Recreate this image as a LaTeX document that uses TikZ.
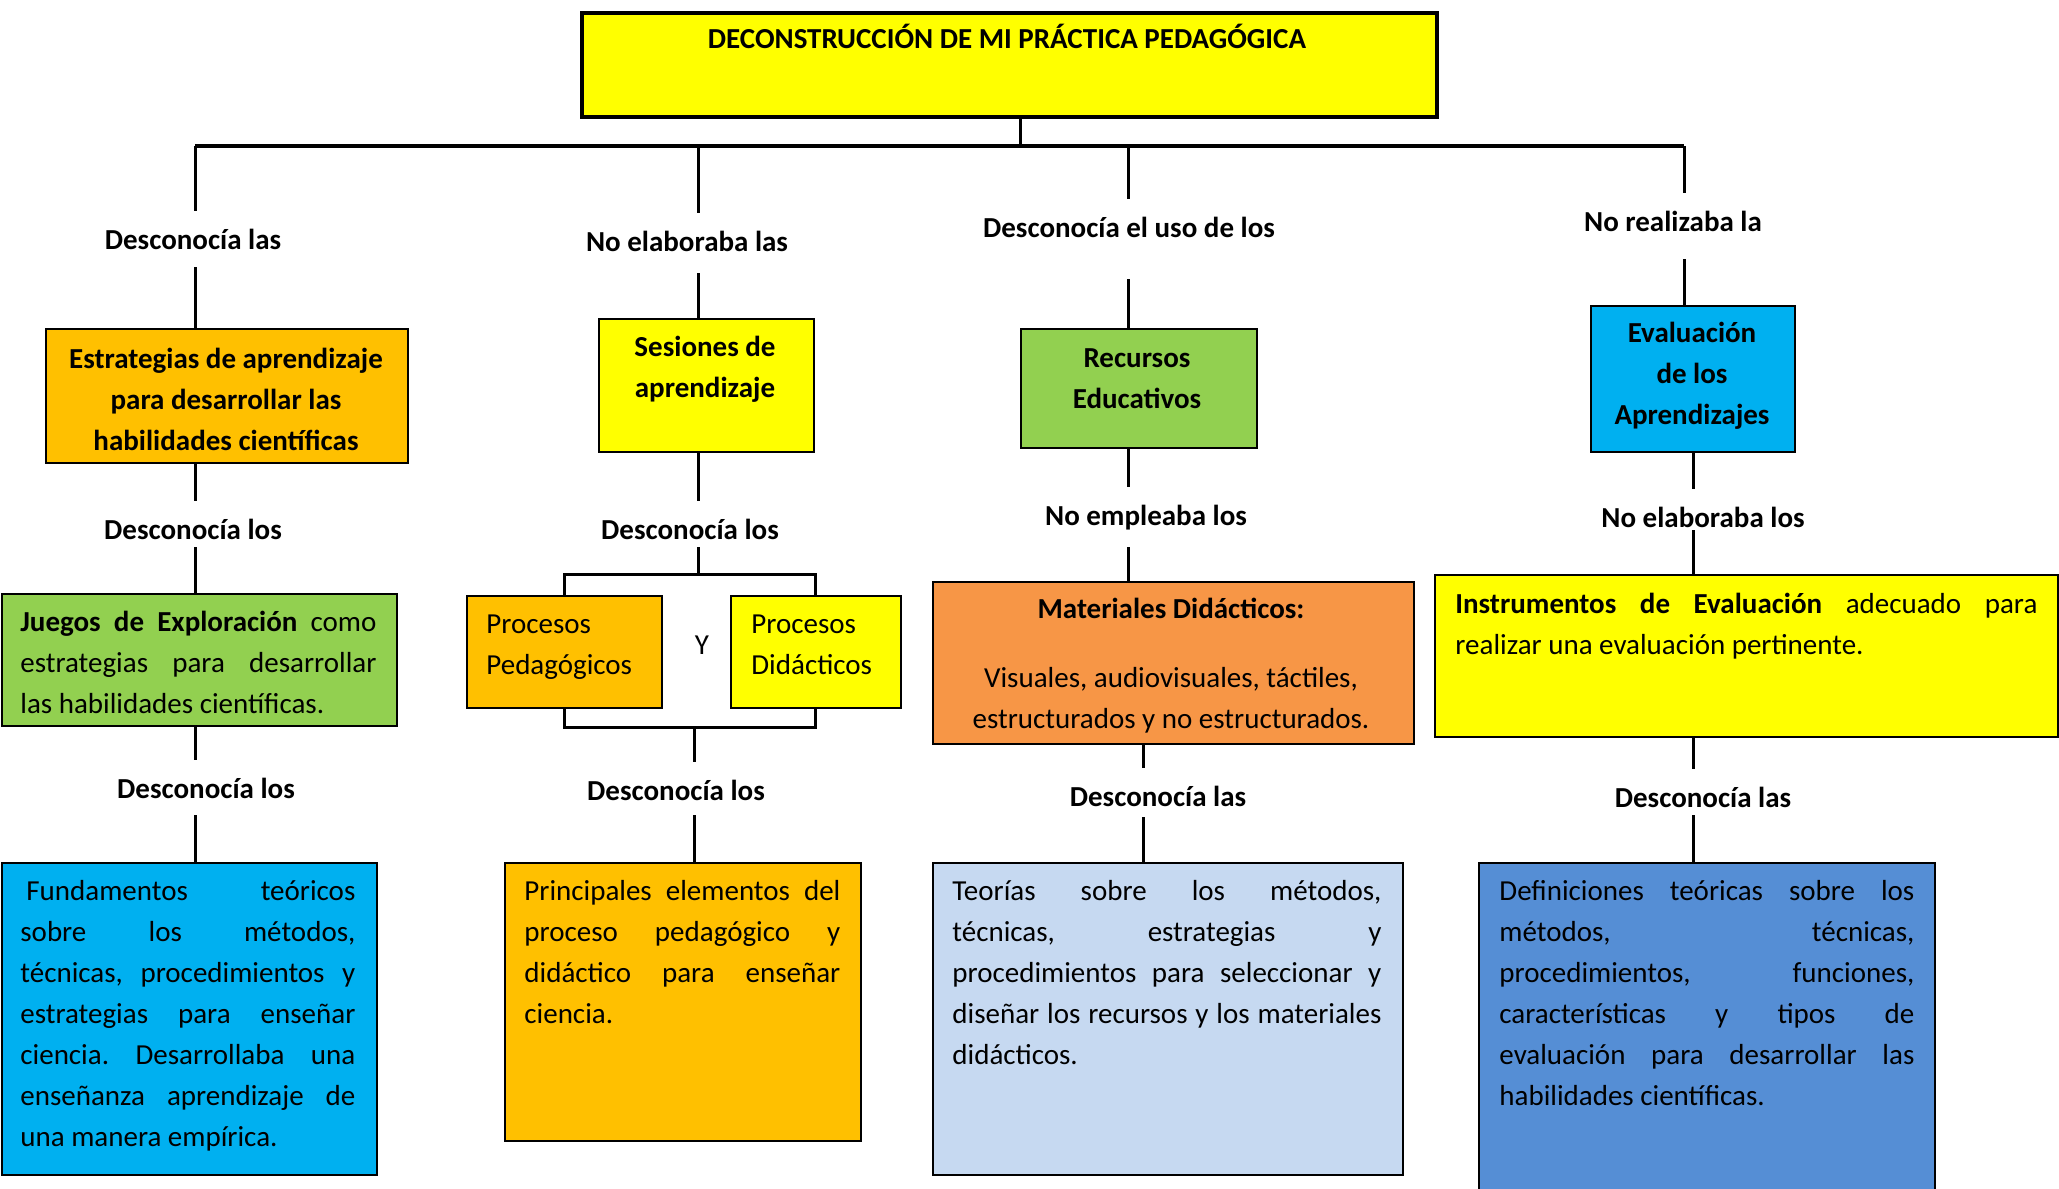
\documentclass[tikz,border=0pt]{standalone}
\usepackage{fontspec}
\setmainfont{Carlito}
\hbadness=10000
\hyphenpenalty=10000
\exhyphenpenalty=10000
\frenchspacing
\definecolor{cyel}{HTML}{FFFF00}
\definecolor{corg}{HTML}{FFC000}
\definecolor{cgrn}{HTML}{92D050}
\definecolor{cblu}{HTML}{00B0F0}
\definecolor{corg2}{HTML}{F79646}
\definecolor{clbl}{HTML}{C6D9F1}
\definecolor{cmbl}{HTML}{558ED5}
\begin{document}
\frenchspacing
\begin{tikzpicture}[x=0.5pt,y=-0.5pt,
  every node/.style={font=\fontsize{14.5}{20.5}\selectfont},
  box/.style={draw=black, line width=0.8pt, inner sep=0pt, anchor=north west},
  lbl/.style={font=\fontsize{14.5}{20.5}\selectfont\bfseries, inner xsep=0pt, inner ysep=8pt, text height=11pt, text depth=0pt, anchor=base},
  conn/.style={line width=1.5pt},
  bus/.style={line width=2pt},
  jtext/.style={anchor=base west, inner sep=0pt, align=justify},
  ctext/.style={anchor=base, inner sep=0pt, align=flush center},
  ltext/.style={anchor=base west, inner sep=0pt, align=flush left}]
\useasboundingbox (0,0) rectangle (2059,1188);

% boxes
\node[box, line width=2pt, fill=cyel, minimum width=427.5pt, minimum height=52pt] (title) at (580,11) {};
\node[box, line width=1.2pt, fill=corg, minimum width=181pt, minimum height=67pt] (e1) at (45,328) {};
\node[box, line width=1.1pt, fill=cgrn, minimum width=197.5pt, minimum height=66pt] (g1) at (1,593) {};
\node[box, line width=1pt, fill=cblu, minimum width=187.5pt, minimum height=156pt] (f1) at (1,862) {};
\node[box, fill=cyel, minimum width=107.5pt, minimum height=66.5pt] (s2) at (598,318) {};
\node[box, fill=corg, minimum width=97.5pt, minimum height=56pt] (pp) at (466,595) {};
\node[box, fill=cyel, minimum width=85pt, minimum height=56pt] (pd) at (730,595) {};
\node[box, fill=corg, minimum width=178pt, minimum height=139pt] (p2) at (504,862) {};
\node[box, fill=cgrn, minimum width=118pt, minimum height=59.5pt] (r3) at (1020,328) {};
\node[box, fill=corg2, minimum width=240.5pt, minimum height=81pt] (m3) at (932,581) {};
\node[box, fill=clbl, minimum width=235pt, minimum height=156pt] (t3) at (932,862) {};
\node[box, fill=cblu, minimum width=102pt, minimum height=73pt] (ev) at (1590,305) {};
\node[box, fill=cyel, minimum width=311.5pt, minimum height=81pt] (in) at (1434,574) {};
\node[box, fill=cmbl, minimum width=228pt, minimum height=169pt] (de) at (1478,862) {};

% box texts
\node[ctext, font=\fontsize{14.5}{20.5}\selectfont\bfseries] (ttitle) at (1007,49) {DECONSTRUCCIÓN DE MI PRÁCTICA PEDAGÓGICA};
\node[ctext, text width=175pt, font=\fontsize{14.5}{20.5}\selectfont\bfseries] (te1) at (226,368) {Estrategias de aprendizaje\\para desarrollar las\\habilidades científicas};
\node[jtext, text width=178pt] (tg1) at (20,631) {\textbf{Juegos de Exploración} como\linebreak estrategias para desarrollar\linebreak las habilidades científicas.};
\node[jtext, text width=167.5pt] (tf1) at (20,900) {\hspace*{3pt}Fundamentos teóricos\linebreak sobre los métodos,\linebreak técnicas, procedimientos y\linebreak estrategias para enseñar\linebreak ciencia. Desarrollaba una\linebreak enseñanza aprendizaje de\linebreak una manera empírica.};
\node[ctext, text width=100pt, font=\fontsize{14.5}{20.5}\selectfont\bfseries] (ts2) at (705,356) {Sesiones de\\aprendizaje};
\node[ltext, text width=85pt] (tpp) at (486,633) {Procesos\\Pedagógicos};
\node[ctext] (ty) at (702,654) {Y};
\node[ltext, text width=75pt] (tpd) at (751,633) {Procesos\\Didácticos};
\node[jtext, text width=158pt] (tp2) at (524,900) {Principales elementos del\linebreak proceso pedagógico y\linebreak didáctico para enseñar\linebreak ciencia.};
\node[ctext, text width=110pt, font=\fontsize{14.5}{20.5}\selectfont\bfseries] (tr3) at (1137,367) {Recursos\\Educativos};
\node[ctext, font=\fontsize{14.5}{20.5}\selectfont\bfseries] (tm3a) at (1171,618) {Materiales Didácticos:};
\node[ctext, text width=230pt] (tm3b) at (1171,687) {Visuales, audiovisuales, táctiles,\\estructurados y no estructurados.};
\node[jtext, text width=214.5pt] (tt3) at (952,900) {Teorías sobre los métodos,\linebreak técnicas, estrategias y\linebreak procedimientos para seleccionar y\linebreak diseñar los recursos y los materiales\linebreak didácticos.};
\node[ctext, text width=95pt, font=\fontsize{14.5}{20.5}\selectfont\bfseries] (tev) at (1692,342) {Evaluación\\de los\\Aprendizajes};
\node[jtext, text width=291pt] (tin) at (1455,613) {\textbf{Instrumentos de Evaluación} adecuado para\linebreak realizar una evaluación pertinente.};
\node[jtext, text width=207.5pt] (tde) at (1499,900) {Definiciones teóricas sobre los\linebreak métodos, técnicas,\linebreak procedimientos, funciones,\linebreak características y tipos de\linebreak evaluación para desarrollar las\linebreak habilidades científicas.};

% labels
\node[lbl] (l11) at (193,249) {Desconocía las};
\node[lbl] (l12) at (193,539) {Desconocía los};
\node[lbl] (l13) at (206,798) {Desconocía los};
\node[lbl] (l21) at (687,251) {No elaboraba las};
\node[lbl] (l22) at (690,539) {Desconocía los};
\node[lbl] (l23) at (676,800) {Desconocía los};
\node[lbl] (l31) at (1129,237) {Desconocía el uso de los};
\node[lbl] (l32) at (1146,525) {No empleaba los};
\node[lbl] (l33) at (1158,806) {Desconocía las};
\node[lbl] (l41) at (1673,231) {No realizaba la};
\node[lbl] (l42) at (1703,527) {No elaboraba los};
\node[lbl] (l43) at (1703,807) {Desconocía las};

% column coordinates
\coordinate (ts) at (1020,146);
\coordinate (c1) at (195,146);
\coordinate (c2) at (698,146);
\coordinate (c2b) at (694,146);
\coordinate (c3) at (1128,146);
\coordinate (c3b) at (1143,146);
\coordinate (c4) at (1684,146);
\coordinate (c4b) at (1693,146);
\coordinate (b2) at (698,574);
\coordinate (b2b) at (694,727);

% bus
\draw[conn] (ts |- title.south) -- (ts);
\draw[bus] (c1) -- (c4);

% column 1
\draw[conn] (c1) -- (c1 |- l11.north);
\draw[conn] (c1 |- l11.south) ++(0,2) -- (c1 |- e1.north);
\draw[conn] (c1 |- e1.south) -- (c1 |- l12.north);
\draw[conn] (c1 |- l12.south) ++(0,-8) -- (c1 |- g1.north);
\draw[conn] (c1 |- g1.south) -- (c1 |- l13.north);
\draw[conn] (c1 |- l13.south) ++(0,1) -- (c1 |- f1.north);

% column 2
\draw[conn] (c2) -- (c2 |- l21.north);
\draw[conn] (c2 |- l21.south) ++(0,6) -- (c2 |- s2.north);
\draw[conn] (c2 |- s2.south) -- (c2 |- l22.north);
\draw[conn] (c2 |- l22.south) ++(0,-8) -- (b2);
\draw[conn] (pp.north) |- (b2) -| (pd.north);
\draw[conn] (pp.south) |- (b2b) -| (pd.south);
\draw[conn] (b2b) -- (c2b |- l23.north);
\draw[conn] (c2b |- l23.south) ++(0,-1) -- (c2b |- p2.north);

% column 3
\draw[conn] (c3) -- (c3 |- l31.north);
\draw[conn] (c3 |- l31.south) ++(0,26) -- (c3 |- r3.north);
\draw[conn] (c3 |- r3.south) -- (c3 |- l32.north);
\draw[conn] (c3 |- l32.south) ++(0,6) -- (c3 |- m3.north);
\draw[conn] (c3b |- m3.south) -- (c3b |- l33.north);
\draw[conn] (c3b |- l33.south) ++(0,-5) -- (c3b |- t3.north);

% column 4
\draw[conn] (c4) -- (c4 |- l41.north);
\draw[conn] (c4 |- l41.south) ++(0,12) -- (c4 |- ev.north);
\draw[conn] (c4b |- ev.south) -- (c4b |- l42.north);
\draw[conn] (c4b |- l42.south) ++(0,-13) -- (c4b |- in.north);
\draw[conn] (c4b |- in.south) -- (c4b |- l43.north);
\draw[conn] (c4b |- l43.south) ++(0,-8) -- (c4b |- de.north);
\end{tikzpicture}
\end{document}
